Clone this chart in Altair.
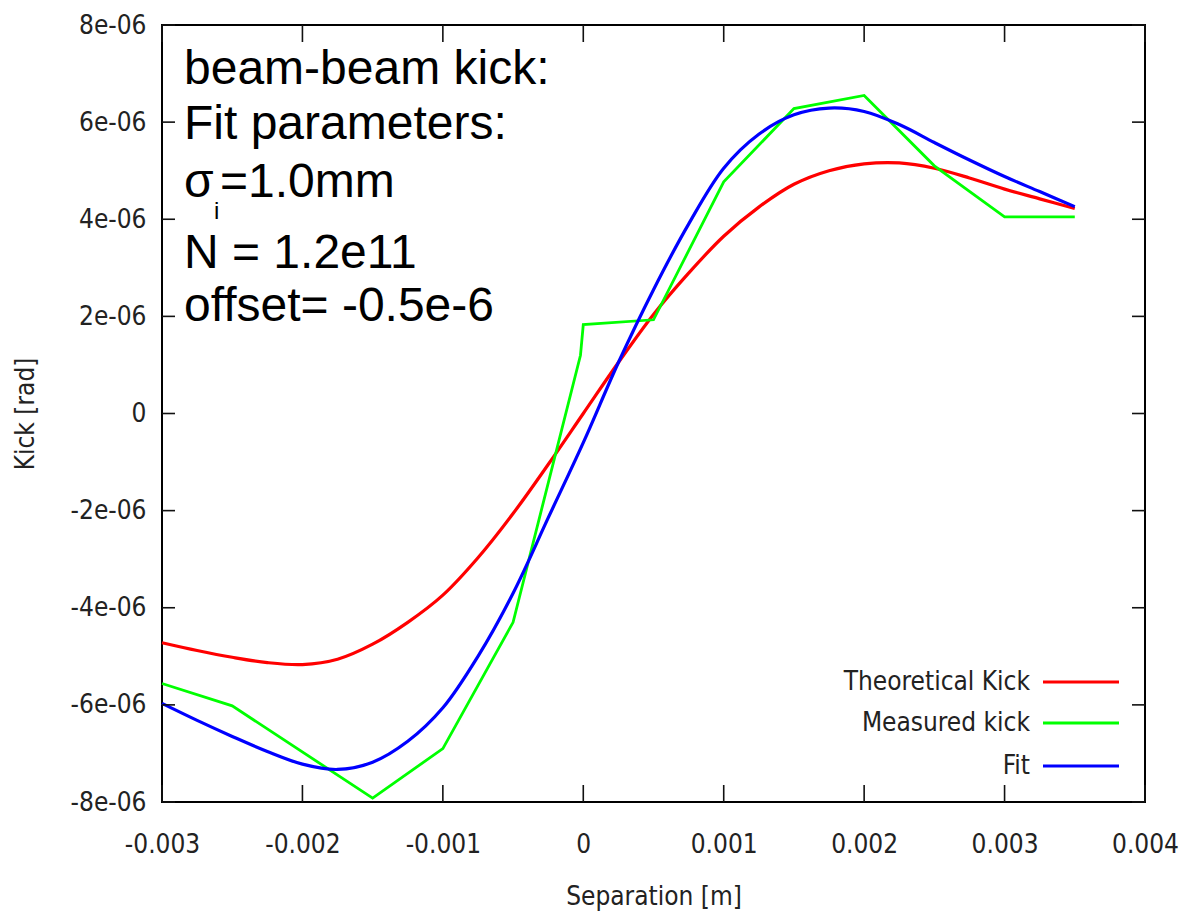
import altair as alt
import pandas as pd

# ---------------- data ----------------
sep_smooth = [-0.003, -0.00275, -0.0025, -0.00225, -0.002, -0.00175, -0.0015, -0.00125,
              -0.001, -0.00075, -0.0005, -0.00025, 0.0, 0.00025, 0.0005, 0.00075, 0.001,
              0.00125, 0.0015, 0.00175, 0.002, 0.00225, 0.0025, 0.00275, 0.003, 0.00325, 0.0035]
# micro-radians
theoretical_kick = [-4.72, -4.88, -5.02, -5.13, -5.17, -5.06, -4.75, -4.30, -3.74, -2.97,
                    -2.06, -1.05, 0.0, 1.05, 2.04, 2.89, 3.65, 4.25, 4.72, 5.00, 5.14,
                    5.16, 5.05, 4.85, 4.62, 4.42, 4.22]
fit_kick = [-5.97, -6.32, -6.65, -6.96, -7.22, -7.33, -7.18, -6.75, -6.06, -5.0, -3.7,
            -2.15, -0.6, 1.05, 2.55, 3.9, 5.05, 5.75, 6.15, 6.29, 6.22, 5.95, 5.58, 5.22,
            4.88, 4.57, 4.26]
measured_sep = [-0.003, -0.0025, -0.0015, -0.001, -0.0005, -0.00002, 0.0, 0.0005, 0.001,
                0.0015, 0.002, 0.0025, 0.003, 0.0035]
measured_kick = [-5.56, -6.02, -7.92, -6.9, -4.3, 1.2, 1.83, 1.93, 4.77, 6.28, 6.55, 5.1,
                 4.05, 4.05]

x_ticks = [-0.003, -0.002, -0.001, 0.0, 0.001, 0.002, 0.003, 0.004]
y_ticks = [-8e-06, -6e-06, -4e-06, -2e-06, 0.0, 2e-06, 4e-06, 6e-06, 8e-06]

legend_labels = ["Theoretical Kick", "Measured kick", "Fit"]
legend_colors = ["#ff0000", "#00ff00", "#0000ff"]

annotation_lines = ["beam-beam kick:", "Fit parameters:", "N = 1.2e11", "offset= -0.5e-6"]

# ---------------- tables ----------------
df_theo = pd.DataFrame({"sep": sep_smooth, "kick": [v * 1e-6 for v in theoretical_kick]})
df_fit = pd.DataFrame({"sep": sep_smooth, "kick": [v * 1e-6 for v in fit_kick]})
df_meas = pd.DataFrame({"sep": measured_sep, "kick": [v * 1e-6 for v in measured_kick],
                        "idx": list(range(len(measured_sep)))})
df_xt = pd.DataFrame({"sep": x_ticks})
df_yt = pd.DataFrame({"kick": y_ticks})

W, H = 983, 777
AXFONT = "DejaVu Sans Condensed, DejaVu Sans"
TXT = "#222222"

xs = alt.Scale(domain=[-0.003, 0.004], nice=False, zero=False)
ys = alt.Scale(domain=[-8e-06, 8e-06], nice=False, zero=False)

xaxis = alt.Axis(values=x_ticks, title="Separation [m]",
                 labelExpr="replace(format(datum.value, '.3~f'), '\u2212', '-')",
                 labelPadding=42, labelBaseline="middle", labelFlush=False, labelOverlap=False,
                 ticks=False, domain=False, grid=False,
                 titleX=W / 2, titleY=94, titleBaseline="middle", titleAlign="center")
yaxis = alt.Axis(values=y_ticks, title="Kick [rad]",
                 labelExpr="datum.value == 0 ? '0' : replace(replace(format(datum.value, '.0e'), '\u2212', '-'), 'e-', 'e-0')",
                 labelPadding=16, labelBaseline="middle", labelFlush=False, labelOverlap=False,
                 ticks=False, domain=False, grid=False,
                 titleX=-137, titleY=H / 2, titleAngle=270, titleBaseline="middle",
                 titleAlign="center")

X = alt.X("sep:Q", scale=xs, axis=xaxis)
Y = alt.Y("kick:Q", scale=ys, axis=yaxis)

red = alt.Chart(df_theo).mark_line(color="#ff0000", strokeWidth=3.2, interpolate="catmull-rom").encode(
    x=X, y=Y)
green = alt.Chart(df_meas).mark_line(color="#00ff00", strokeWidth=2.8).encode(
    x=X, y=Y, order="idx:Q")
blue = alt.Chart(df_fit).mark_line(color="#0000ff", strokeWidth=3.2, interpolate="catmull-rom").encode(
    x=X, y=Y)

tick_style = dict(color="#111111", strokeWidth=1.6)
xt_bottom = alt.Chart(df_xt).mark_rule(**tick_style).encode(
    x=X, y=alt.value(H), y2=alt.value(H - 17))
xt_top = alt.Chart(df_xt).mark_rule(**tick_style).encode(
    x=X, y=alt.value(0), y2=alt.value(17))
yt_left = alt.Chart(df_yt).mark_rule(**tick_style).encode(
    y=Y, x=alt.value(0), x2=alt.value(13))
yt_right = alt.Chart(df_yt).mark_rule(**tick_style).encode(
    y=Y, x=alt.value(W - 13), x2=alt.value(W))

layers = [red, green, blue, xt_bottom, xt_top, yt_left, yt_right]

# legend (gnuplot style: label then sample line)
legend_y = [657, 698, 741]
for lab, col, ly in zip(legend_labels, legend_colors, legend_y):
    layers.append(
        alt.Chart(pd.DataFrame({"t": [lab]})).mark_text(
            align="right", baseline="middle", font=AXFONT, fontSize=26, color=TXT
        ).encode(text="t:N", x=alt.value(868), y=alt.value(ly))
    )
    layers.append(
        alt.Chart(pd.DataFrame({"t": [lab]})).mark_rule(color=col, strokeWidth=3).encode(
            x=alt.value(881), x2=alt.value(957), y=alt.value(ly))
    )

# annotation block
ann_font = "Liberation Sans, Arial, Helvetica"
ann_pos = [58.5, 113.7, 242.5, 296]
for line, ay in zip(annotation_lines, ann_pos):
    layers.append(
        alt.Chart(pd.DataFrame({"t": [line]})).mark_text(
            align="left", baseline="alphabetic", font=ann_font, fontSize=48, color="black"
        ).encode(text="t:N", x=alt.value(22), y=alt.value(ay))
    )
layers.append(
    alt.Chart(pd.DataFrame({"t": ["\u03c3"]})).mark_text(
        align="left", baseline="alphabetic", font=ann_font, fontSize=48, color="black"
    ).encode(text="t:N", x=alt.value(22), y=alt.value(172))
)
layers.append(
    alt.Chart(pd.DataFrame({"t": ["i"]})).mark_text(
        align="left", baseline="alphabetic", font=ann_font, fontSize=24, color="black"
    ).encode(text="t:N", x=alt.value(52), y=alt.value(194))
)
layers.append(
    alt.Chart(pd.DataFrame({"t": ["=1.0mm"]})).mark_text(
        align="left", baseline="alphabetic", font=ann_font, fontSize=48, color="black"
    ).encode(text="t:N", x=alt.value(58), y=alt.value(172))
)

chart = alt.layer(*layers).properties(
    width=W, height=H,
    padding={"left": 154, "top": 17, "right": 34, "bottom": 112},
    autosize=alt.AutoSizeParams(type="none"),
).configure_view(
    stroke="black", strokeWidth=2
).configure_axis(
    labelFont=AXFONT, labelFontSize=26, labelColor=TXT,
    titleFont=AXFONT, titleFontSize=26, titleColor=TXT, titleFontWeight="normal",
)

chart.save("out.html", embed_options={"renderer": "svg", "actions": False})
